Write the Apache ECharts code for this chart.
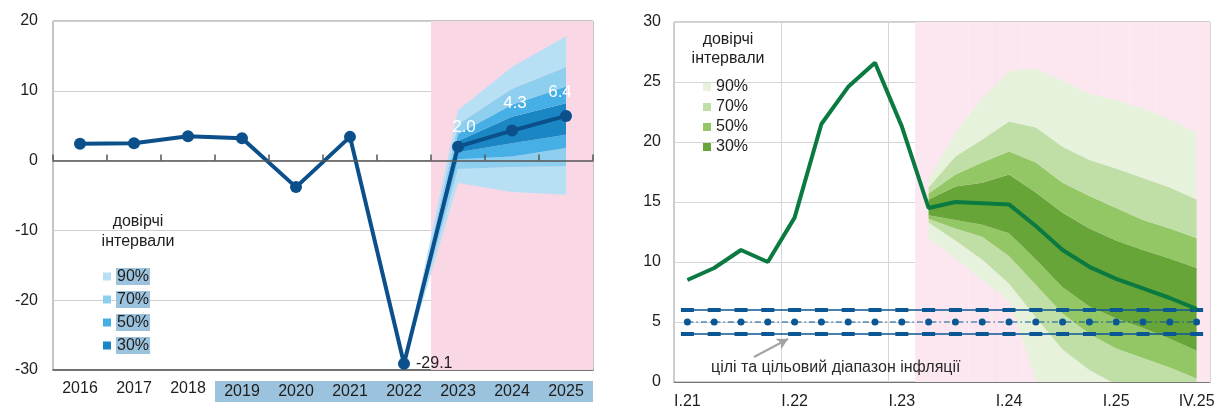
<!DOCTYPE html>
<html lang="uk">
<head>
  <meta charset="UTF-8">
  <title>ВВП та інфляція: прогноз</title>
  <style>
    body { margin: 0; background: #fff; }
    #main { width: 1225px; height: 412px; }
  </style>
</head>
<body>
  <div id="main"></div>
  <script src="https://cdn.jsdelivr.net/npm/echarts@6/dist/echarts.min.js"></script>
  <script>
    // ---- ліва панель: ВВП, % р/р ----
    const years = ['2016', '2017', '2018', '2019', '2020', '2021', '2022', '2023', '2024', '2025'];
    const gdp = [2.4, 2.5, 3.5, 3.2, -3.8, 3.4, -29.1, 2.0, 4.3, 6.4];
    const gdpForecastYears = ['2023', '2024', '2025'];
    // віяло починається з точки 2022 (2022..2025)
    const gdpFanStart = 6;
    const gdpLo90 = [-29.1, -3.2, -4.5, -4.9];
    const gdpLo70 = [-29.1, -1.2, -0.9, -0.8];
    const gdpLo50 = [-29.1, 0.2, 0.6, 1.8];
    const gdpLo30 = [-29.1, 1.2, 2.5, 3.7];
    const gdpHi30 = [-29.1, 2.8, 6.3, 8.2];
    const gdpHi50 = [-29.1, 3.8, 8.0, 10.6];
    const gdpHi70 = [-29.1, 5.2, 10.3, 13.4];
    const gdpHi90 = [-29.1, 7.2, 13.4, 17.8];

    // ---- права панель: інфляція, % р/р ----
    const quarters = [
      'I.21', 'II.21', 'III.21', 'IV.21', 'I.22', 'II.22', 'III.22', 'IV.22',
      'I.23', 'II.23', 'III.23', 'IV.23', 'I.24', 'II.24', 'III.24', 'IV.24',
      'I.25', 'II.25', 'III.25', 'IV.25'
    ];
    const cpi = [8.5, 9.5, 11.0, 10.0, 13.7, 21.5, 24.6, 26.6, 21.3, 14.5,
      15.0, 14.9, 14.8, 13.0, 11.0, 9.6, 8.6, 7.8, 7.0, 6.1];
    const cpiForecastStart = 9; // II.23
    const cpiFanStart = 9;
    const cpiLo90 = [11.9, 10.3, 8.5, 6.8, 0.2, -3.0, -5.0, -6.0, -7.0, -8.0, -9.0];
    const cpiLo70 = [13.3, 11.8, 10.2, 8.2, 5.4, 2.7, 1.0, -0.2, -1.0, -2.0, -3.0];
    const cpiLo50 = [13.6, 12.8, 12.1, 10.5, 8.1, 5.7, 4.0, 2.8, 2.0, 1.2, 0.3];
    const cpiLo30 = [13.9, 13.5, 13.1, 12.4, 10.2, 7.9, 6.3, 5.3, 4.5, 3.6, 2.6];
    const cpiHi30 = [15.2, 16.3, 16.6, 17.3, 15.8, 14.1, 12.8, 11.8, 11.0, 10.3, 9.5];
    const cpiHi50 = [15.7, 17.3, 18.3, 19.2, 18.3, 16.6, 15.5, 14.5, 13.5, 12.8, 12.0];
    const cpiHi70 = [16.2, 18.8, 20.2, 21.7, 21.2, 19.6, 18.5, 17.8, 17.0, 16.2, 15.2];
    const cpiHi90 = [16.9, 20.8, 23.6, 25.9, 26.1, 25.1, 24.0, 23.5, 22.8, 21.9, 20.8];
    const targetHi = quarters.map(() => 6);
    const targetMid = quarters.map(() => 5);
    const targetLo = quarters.map(() => 4);

    const bandNames = ['90%', '70%', '50%', '30%'];
    const FONT = '"Liberation Sans", Arial, sans-serif';
    const INK = '#1e1e1e';
    const blues = { '90%': '#b8e0f5', '70%': '#8ecff0', '50%': '#46afe5', '30%': '#1b86c4' };
    const greens = { '90%': '#e6f2dc', '70%': '#bfdfa6', '50%': '#93c765', '30%': '#68a539' };

    var myChart = echarts.init(document.getElementById('main'));

    function pad(arr, offset, len) {
      const out = new Array(len).fill('-');
      arr.forEach((v, i) => { out[offset + i] = v; });
      return out;
    }

    // стек смуг: невидима база (нижня межа 90%) + різниці між межами
    function fanSeries(bounds, colors, offset, len, xi, yi, stack) {
      const names = [null, '90%', '70%', '50%', '30%', '50%', '70%', '90%'];
      return bounds.map((b, i) => {
        const vals = b.map((v, k) => i === 0 ? v : +(v - bounds[i - 1][k]).toFixed(2));
        const s = {
          type: 'line', name: names[i] || 'base-' + stack, stack: stack, stackStrategy: 'all',
          xAxisIndex: xi, yAxisIndex: yi, data: pad(vals, offset, len),
          symbol: 'none', lineStyle: { width: 0, opacity: 0 }, silent: true, z: 2
        };
        if (i > 0) {
          s.areaStyle = { color: colors[names[i]], opacity: 1 };
          s.itemStyle = { color: colors[names[i]] };
        }
        return s;
      });
    }

    const gdpData = gdp.map((v, i) => {
      const item = { value: v };
      if (i === 6) {
        item.label = { show: true, position: 'right', distance: 6, color: INK, fontSize: 16, fontFamily: FONT, formatter: '{c}' };
      } else if (i >= 7) {
        const dist = [5, 13, 9][i - 7], off = [6, 3, -6][i - 7];
        item.label = { show: true, position: 'top', distance: dist, offset: [off, 0], color: '#fff', fontSize: 17, fontFamily: FONT, formatter: (p) => p.value.toFixed(1) };
      }
      return item;
    });

    const axisText = { fontSize: 16, color: INK, fontFamily: FONT };

    var option = {
      animation: false,
      grid: [
        { left: 53, top: 21, width: 540, height: 349, show: true, borderColor: '#8a8a8a', borderWidth: 1 },
        { left: 674, top: 22, width: 536, height: 360, show: true, borderColor: '#9a9a9a', borderWidth: 1 }
      ],
      xAxis: [
        {
          gridIndex: 0, type: 'category', data: years, position: 'bottom',
          axisLine: { onZero: false, lineStyle: { color: '#555', width: 1.5 } },
          axisTick: { show: false },
          axisLabel: Object.assign({}, axisText, {
            margin: 11, interval: 0,
            formatter: (v, i) => i >= 3 ? '{hl|' + v + '}' : v,
            rich: { hl: { backgroundColor: '#9cc3dd', width: 54, align: 'center', padding: [3, 0, 2, 0], fontSize: 16, color: INK, fontFamily: FONT } }
          })
        },
        {
          // нульова лінія з рисками між роками
          gridIndex: 0, type: 'category', data: years, position: 'top', z: 10,
          axisLine: { onZero: true, onZeroAxisIndex: 0, lineStyle: { color: '#555', width: 1.5 } },
          axisTick: { show: true, inside: false, length: 6, interval: 0, lineStyle: { color: '#555', width: 1.5 } },
          axisLabel: { show: false, interval: 0 }, splitLine: { show: false }
        },
        {
          gridIndex: 1, type: 'category', data: quarters,
          axisLine: { lineStyle: { color: '#777' } },
          axisTick: { show: false },
          axisLabel: Object.assign({}, axisText, { margin: 12, interval: (i) => i % 4 === 0 || i === 19 }),
          splitLine: { show: true, interval: (i) => i % 4 === 0 && i > 0, lineStyle: { color: '#d6d6d6' } }
        }
      ],
      yAxis: [
        {
          gridIndex: 0, type: 'value', min: -30, max: 20, interval: 10,
          axisLine: { show: false }, axisTick: { show: false },
          axisLabel: Object.assign({}, axisText, { margin: 15 }),
          splitLine: { lineStyle: { color: '#cfcfcf' } }
        },
        { gridIndex: 0, type: 'value', min: 0, max: 1, show: false, splitLine: { show: false } },
        {
          gridIndex: 1, type: 'value', min: 0, max: 30, interval: 5,
          axisLine: { show: false }, axisTick: { show: false },
          axisLabel: Object.assign({}, axisText, { margin: 13 }),
          splitLine: { lineStyle: { color: '#d6d6d6' } }
        },
        { gridIndex: 1, type: 'value', min: 0, max: 1, show: false, splitLine: { show: false } }
      ],
      legend: [
        {
          orient: 'vertical', left: 98, top: 263, itemWidth: 8, itemHeight: 8, itemGap: 6,
          icon: 'rect', selectedMode: false,
          textStyle: { fontSize: 16, color: INK, fontFamily: FONT, backgroundColor: '#9cc3dd', padding: [1, 1, 0, 1] },
          data: bandNames.map(n => ({ name: n, itemStyle: { color: blues[n] } }))
        },
        {
          orient: 'vertical', left: 698, top: 74, itemWidth: 8, itemHeight: 8, itemGap: 4,
          icon: 'rect', selectedMode: false,
          textStyle: { fontSize: 16, color: INK, fontFamily: FONT },
          data: bandNames.map(n => ({ name: n, itemStyle: { color: greens[n] } }))
        }
      ],
      graphic: [
        { type: 'text', z: 100, x: 138, y: 212, style: { text: 'довірчі\nінтервали', align: 'center', verticalAlign: 'top', lineHeight: 20, font: '16px ' + FONT, fill: INK } },
        { type: 'text', z: 100, x: 728, y: 30, style: { text: 'довірчі\nінтервали', align: 'center', verticalAlign: 'top', lineHeight: 19, font: '16px ' + FONT, fill: INK } },
        { type: 'text', z: 100, x: 711, y: 360, style: { text: 'цілі та цільовий діапазон інфляції', font: '16px ' + FONT, fill: '#2a2a2a' } }
      ],
      series: [
        // прогнозний період (рожевий фон)
        {
          type: 'bar', xAxisIndex: 0, yAxisIndex: 1, silent: true, z: 0,
          data: years.map(y => gdpForecastYears.includes(y) ? 1 : '-'),
          barWidth: '100%', itemStyle: { color: '#f9d7e5' }
        },
        {
          type: 'bar', xAxisIndex: 2, yAxisIndex: 3, silent: true, z: 0,
          data: quarters.map((q, i) => i >= cpiForecastStart ? 1 : '-'),
          barWidth: '100%', itemStyle: { color: '#fce7f0' }
        },
        ...fanSeries([gdpLo90, gdpLo70, gdpLo50, gdpLo30, gdpHi30, gdpHi50, gdpHi70, gdpHi90],
          blues, gdpFanStart, years.length, 0, 0, 'gdpFan'),
        {
          type: 'line', name: 'ВВП', xAxisIndex: 0, yAxisIndex: 0, data: gdpData, z: 5,
          symbol: 'circle', symbolSize: 12, showAllSymbol: true,
          lineStyle: { color: '#0b4f8b', width: 4 }, itemStyle: { color: '#0b4f8b' }
        },
        ...fanSeries([cpiLo90, cpiLo70, cpiLo50, cpiLo30, cpiHi30, cpiHi50, cpiHi70, cpiHi90],
          greens, cpiFanStart, quarters.length, 2, 2, 'cpiFan'),
        {
          type: 'line', name: 'ціль+1', xAxisIndex: 2, yAxisIndex: 2, data: targetHi, z: 4,
          symbol: 'rect', symbolSize: [13, 4], showAllSymbol: true, silent: true,
          lineStyle: { color: '#0b5794', width: 1.5 }, itemStyle: { color: '#0b5794' }
        },
        {
          type: 'line', name: 'ціль', xAxisIndex: 2, yAxisIndex: 2, data: targetMid, z: 4,
          symbol: 'circle', symbolSize: 7, showAllSymbol: true, silent: true,
          lineStyle: { color: '#0b5794', width: 1.2, type: [6, 3, 1.5, 3] }, itemStyle: { color: '#0b5794' },
          markLine: {
            silent: true, symbol: ['none', 'arrow'], symbolSize: [9, 11], label: { show: false },
            lineStyle: { color: '#a3a3a3', width: 2, type: 'solid' },
            data: [[{ x: 754, y: 357 }, { x: 788, y: 339 }]]
          }
        },
        {
          type: 'line', name: 'ціль-1', xAxisIndex: 2, yAxisIndex: 2, data: targetLo, z: 4,
          symbol: 'rect', symbolSize: [13, 4], showAllSymbol: true, silent: true,
          lineStyle: { color: '#0b5794', width: 1.5 }, itemStyle: { color: '#0b5794' }
        },
        {
          type: 'line', name: 'ІСЦ', xAxisIndex: 2, yAxisIndex: 2, data: cpi, z: 6,
          symbol: 'none', lineStyle: { color: '#0b7a40', width: 4 }
        }
      ]
    };

    myChart.setOption(option);
  </script>
</body>
</html>
